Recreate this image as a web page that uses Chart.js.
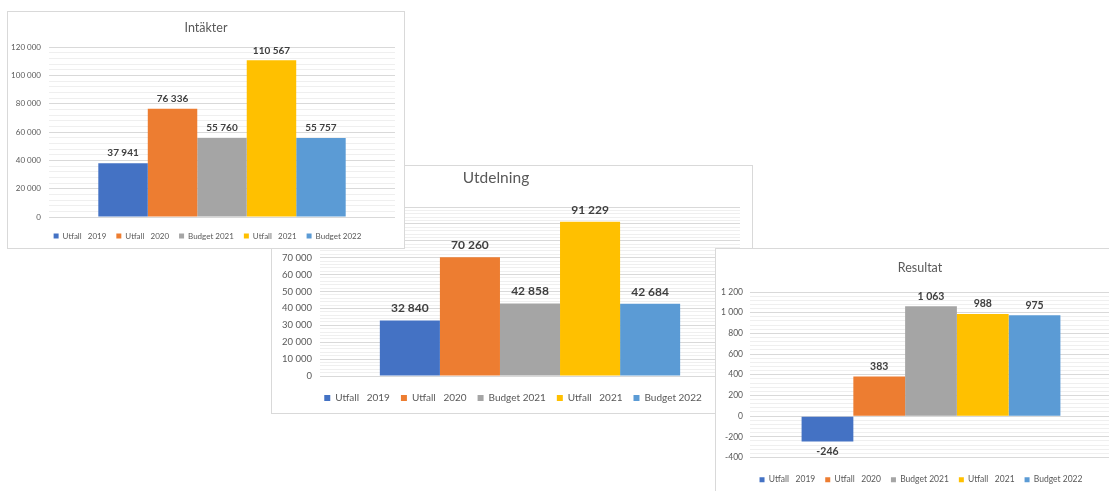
<!DOCTYPE html>
<html>
<head>
<meta charset="utf-8">
<script src="https://cdn.jsdelivr.net/npm/chart.js@4"></script>
<style>
  html, body { margin: 0; padding: 0; background: #fff; width: 1109px; height: 491px; overflow: hidden; position: relative; }
  .panel { position: absolute; background: #fff; border: 1px solid #d9d9d9; box-sizing: border-box; overflow: hidden; }
  .panel canvas { position: absolute; left: 0; top: 0; }
</style>
</head>
<body>
<div class="panel" id="p2" style="left:271px; top:165px; width:482px; height:249px; z-index:1;"><canvas id="c2" width="480" height="247"></canvas></div>
<div class="panel" id="p1" style="left:7px; top:11px; width:398px; height:238px; z-index:2;"><canvas id="c1" width="396" height="238"></canvas></div>
<div class="panel" id="p3" style="left:715px; top:248px; width:420px; height:260px; z-index:3;"><canvas id="c3" width="410" height="245"></canvas></div>
<script>
// serier (samma i alla tre diagrammen)
const seriesLabels = ['Utfall   2019', 'Utfall   2020', 'Budget 2021', 'Utfall   2021', 'Budget 2022'];
const seriesColors = ['#4472c4', '#ed7d31', '#a5a5a5', '#ffc000', '#5b9bd5'];

// värden
const intakter = [37941, 76336, 55760, 110567, 55757];
const utdelning = [32840, 70260, 42858, 91229, 42684];
const resultat = [-246, 383, 1063, 988, 975];

// y-axlar: min, max, steg för etiketter
const intakterAxis = [0, 120000, 20000];
const utdelningAxis = [0, 100000, 10000];
const resultatAxis = [-400, 1200, 200];

const FONT = 'Lato, "Open Sans", sans-serif';

function fmt(v) {
    const s = Math.abs(Math.round(v)).toString().replace(/\B(?=(\d{3})+(?!\d))/g, ' ');
    return v < 0 ? '-' + s : s;
}

// titel + dataetiketter ritas här, legenden flyttas lite åt höger
const panelPlugin = {
    id: 'panelStuff',
    afterLayout(chart, args, opts) {
        if (chart.legend && opts.legendShift) {
            chart.legend.left += opts.legendShift;
            chart.legend.right += opts.legendShift;
        }
    },
    afterDatasetsDraw(chart, args, opts) {
        const ctx = chart.ctx;
        ctx.save();
        ctx.font = 'bold ' + opts.labelSize + 'px ' + FONT;
        ctx.fillStyle = '#404040';
        ctx.textAlign = 'center';
        ctx.textBaseline = 'middle';
        chart.data.datasets.forEach((ds, i) => {
            const meta = chart.getDatasetMeta(i);
            meta.data.forEach((bar, j) => {
                const v = ds.data[j];
                const y = v >= 0 ? bar.y - opts.labelOffset : bar.y + opts.labelOffset;
                ctx.fillText(fmt(v), bar.x, y);
            });
        });
        ctx.font = opts.titleSize + 'px ' + FONT;
        ctx.fillStyle = '#595959';
        ctx.fillText(opts.title, opts.titleX, opts.titleY);
        ctx.restore();
    }
};

function makeChart(id, values, axis, cfg) {
    const [min, max, major] = axis;
    const minor = major / 5;
    return new Chart(document.getElementById(id), {
        type: 'bar',
        data: {
            labels: [''],
            datasets: values.map((v, i) => ({
                label: seriesLabels[i],
                data: [v],
                backgroundColor: seriesColors[i],
                borderWidth: 0,
                categoryPercentage: 0.715,
                barPercentage: 1
            }))
        },
        options: {
            responsive: false,
            animation: false,
            devicePixelRatio: 1,
            layout: { padding: { top: cfg.top, right: cfg.right, left: 0, bottom: 0 } },
            plugins: {
                title: { display: false },
                tooltip: { enabled: false },
                legend: {
                    position: 'bottom',
                    labels: {
                        boxWidth: cfg.box, boxHeight: cfg.box, padding: cfg.legPad,
                        color: '#595959', font: { family: FONT, size: cfg.legSize }
                    }
                },
                panelStuff: cfg.plug
            },
            scales: {
                x: {
                    display: true,
                    ticks: { display: false },
                    grid: { display: false },
                    border: { display: false },
                    afterFit: (s) => { s.height = cfg.gap; }
                },
                y: {
                    min: min, max: max,
                    afterFit: (s) => { s.width = cfg.axisW; },
                    border: { display: false },
                    grid: {
                        drawTicks: false,
                        color: (c) => (Math.round(c.tick.value) % major === 0 ? '#d9d9d9' : '#efefef')
                    },
                    ticks: {
                        stepSize: minor,
                        autoSkip: false,
                        padding: cfg.tickPad,
                        color: '#595959',
                        font: { family: FONT, size: cfg.tickSize },
                        callback: (v) => (Math.round(v) % major === 0 ? fmt(v) : '')
                    }
                }
            }
        },
        plugins: [panelPlugin]
    });
}

makeChart('c1', intakter, intakterAxis, {
    top: 35, right: 9, axisW: 41, tickPad: 8, tickSize: 8, gap: 5,
    box: 5, legPad: 10, legSize: 8,
    plug: { title: 'Intäkter', titleX: 198, titleY: 16, titleSize: 12.5, labelSize: 10, labelOffset: 10, legendShift: 6 }
});

makeChart('c2', utdelning, utdelningAxis, {
    top: 41, right: 12, axisW: 48, tickPad: 8, tickSize: 9.5, gap: 6,
    box: 6, legPad: 11, legSize: 10,
    plug: { title: 'Utdelning', titleX: 224, titleY: 12, titleSize: 15.5, labelSize: 12, labelOffset: 12, legendShift: 7 }
});

makeChart('c3', resultat, resultatAxis, {
    top: 43, right: 14, axisW: 34, tickPad: 7, tickSize: 8.5, gap: 8,
    box: 5, legPad: 10, legSize: 8.5,
    plug: { title: 'Resultat', titleX: 204, titleY: 19, titleSize: 12.5, labelSize: 10.5, labelOffset: 10, legendShift: 7 }
});
</script>
</body>
</html>
